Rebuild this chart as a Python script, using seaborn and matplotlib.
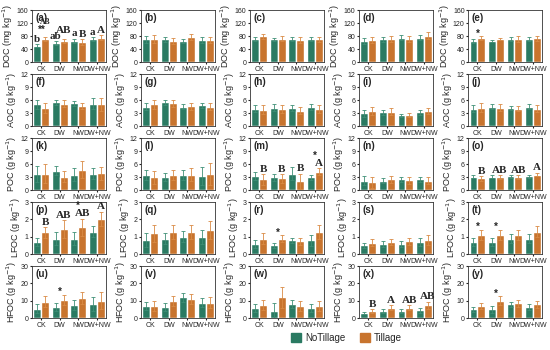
import matplotlib
matplotlib.use("Agg")
import matplotlib.pyplot as plt
import seaborn as sns
import pandas as pd
from matplotlib.patches import Patch

categories = ["CK", "DW", "NW", "DW+NW"]
treatments = ["NoTillage", "Tillage"]
panel_labels = list("abcdefghijklmnopqrstuvwxy")

# one row per soil carbon fraction, one inner list per panel (column)
doc_nt = [[50, 58, 65, 70], [70, 70, 65, 68], [72, 70, 70, 72], [65, 70, 75, 75], [65, 65, 70, 70]]
doc_t = [[72, 65, 62, 75], [72, 65, 78, 68], [80, 72, 68, 70], [68, 72, 72, 82], [73, 70, 71, 73]]
doc_err = [[6, 7, 8, 8], [12, 9, 9, 10], [8, 7, 8, 8], [10, 9, 10, 10], [6, 3, 8, 8]]

aoc_nt = [[5.0, 5.5, 5.3, 5.2], [4.5, 5.5, 4.5, 4.8], [4.0, 4.3, 4.2, 4.5], [3.0, 3.2, 2.5, 3.2], [4.0, 4.5, 4.2, 4.5]]
aoc_t = [[4.2, 5.2, 4.7, 5.1], [5.0, 5.3, 4.6, 4.5], [3.8, 4.0, 3.6, 4.0], [3.5, 3.3, 2.6, 3.5], [4.3, 4.3, 4.0, 4.0]]
aoc_err = [[1.2, 0.8, 0.7, 1.5], [1.0, 0.8, 0.8, 0.8], [1.0, 0.9, 0.9, 0.9], [1.0, 0.8, 0.4, 0.8], [1.0, 0.8, 0.6, 0.8]]

poc_nt = [[3.7, 4.5, 3.6, 3.8], [3.5, 3.0, 3.5, 3.3], [3.3, 3.0, 3.8, 3.0], [2.2, 2.2, 2.5, 2.5], [3.1, 3.1, 3.2, 3.2]]
poc_t = [[3.8, 3.1, 4.7, 3.9], [3.0, 3.5, 3.5, 3.8], [2.5, 2.7, 2.0, 4.3], [1.8, 2.5, 2.3, 2.2], [2.7, 3.0, 3.0, 3.6]]
poc_err = [[2.2, 1.3, 2.0, 1.5], [1.5, 1.2, 1.5, 2.5], [1.2, 1.0, 1.8, 0.7], [1.2, 0.8, 0.8, 0.8], [0.5, 0.4, 0.4, 0.4]]

lfoc_nt = [[0.7, 0.9, 0.9, 1.3], [0.8, 0.9, 1.0, 1.0], [0.6, 0.5, 0.8, 0.8], [0.5, 0.6, 0.6, 0.7], [0.7, 0.7, 0.9, 0.9]]
lfoc_t = [[1.25, 1.45, 1.55, 2.05], [1.2, 1.3, 1.3, 1.4], [0.9, 0.9, 0.75, 1.3], [0.65, 0.7, 0.75, 0.8], [1.1, 1.1, 1.1, 1.3]]
lfoc_err = [[0.3, 0.5, 0.5, 0.4], [0.5, 0.4, 0.4, 0.5], [0.3, 0.2, 0.2, 0.4], [0.2, 0.2, 0.2, 0.3], [0.3, 0.3, 0.3, 0.3]]

hfoc_nt = [[5.5, 6.5, 7.5, 8.0], [7.0, 6.5, 12.0, 9.0], [6.0, 4.0, 8.0, 6.0], [3.0, 4.0, 4.0, 4.5], [5.0, 5.0, 8.0, 6.5]]
hfoc_t = [[9.5, 10.5, 11.5, 10.0], [7.0, 10.0, 11.0, 9.0], [7.5, 12.0, 7.0, 7.0], [4.0, 6.0, 6.0, 7.5], [7.0, 10.0, 8.5, 8.0]]
hfoc_err = [[3.0, 3.0, 3.5, 5.0], [3.0, 3.0, 3.0, 3.0], [3.0, 6.0, 3.0, 3.0], [1.0, 1.5, 1.5, 2.0], [1.5, 2.5, 2.0, 2.0]]

ylabels = ["DOC (mg kg$^{-1}$)", "AOC (g kg$^{-1}$)", "POC (g kg$^{-1}$)",
           "LFOC (g kg$^{-1}$)", "HFOC (g kg$^{-1}$)"]
yticks = [[0, 40, 80, 120, 160], [0, 3, 6, 9, 12], [0, 3, 6, 9, 12], [0, 1, 2, 3], [0, 10, 20, 30]]

# significance letters: panel -> (NoTillage letters, Tillage letters)
letters = {
    "a": (["b", "ab", "a", "a"], ["AB", "AB", "B", "A"]),
    "m": (["", "", "", ""], ["B", "B", "B", "A"]),
    "o": (["", "", "", ""], ["B", "AB", "AB", "A"]),
    "p": (["", "", "", ""], ["B", "AB", "AB", "A"]),
    "x": (["", "", "", ""], ["B", "A", "AB", "AB"]),
}
# stars: panel -> (category, marker text)
stars = {
    "a": [("CK", "**")], "e": [("CK", "*")], "m": [("DW+NW", "*")],
    "p": [("NW", "*")], "r": [("DW", "*")], "t": [("CK", "*"), ("DW", "*")],
    "u": [("DW", "*")], "y": [("DW", "*")],
}

colors = ["#2a7a62", "#c8742e"]
err_colors = ["#3f8f76", "#d98b45"]

rows = [(doc_nt, doc_t, doc_err), (aoc_nt, aoc_t, aoc_err), (poc_nt, poc_t, poc_err),
        (lfoc_nt, lfoc_t, lfoc_err), (hfoc_nt, hfoc_t, hfoc_err)]

sns.set_style("white")
plt.rcParams["font.family"] = ["Liberation Sans", "DejaVu Sans"]

fig, axes = plt.subplots(5, 5, figsize=(5.5, 3.5), dpi=100)
fig.subplots_adjust(left=0.058, right=0.986, top=0.971, bottom=0.091, wspace=0.47, hspace=0.23)

for r, (nt, t, err) in enumerate(rows):
    ymax = yticks[r][-1]
    for c in range(5):
        ax = axes[r, c]
        lab = panel_labels[r * 5 + c]
        df = pd.DataFrame({
            "cat": categories * 2,
            "trt": [treatments[0]] * 4 + [treatments[1]] * 4,
            "val": nt[c] + t[c],
        })
        sns.barplot(data=df, x="cat", y="val", hue="trt", order=categories,
                    hue_order=treatments, palette=colors, width=0.85,
                    errorbar=None, legend=False, ax=ax, saturation=1)
        bar_groups = list(ax.containers)
        tops = {}
        for h, cont in enumerate(bar_groups):
            for i, bar in enumerate(cont):
                xc = bar.get_x() + bar.get_width() / 2
                yv = bar.get_height()
                e = err[c][i] * (1.0 if h == 1 else 0.8)
                ax.errorbar(xc, yv, yerr=e, color=err_colors[h], lw=0.6,
                            capsize=1.2, capthick=0.6)
                tops[(h, i)] = (xc, yv + e)
        if lab in letters:
            for h in range(2):
                for i, s in enumerate(letters[lab][h]):
                    if not s:
                        continue
                    xc, yt = tops[(h, i)]
                    size = 8
                    if lab == "a" and h == 1 and i == 0:
                        # crowded group in (a): small letters above the stars
                        size, yt = 5.5, yt + ymax * 0.2
                    elif lab == "a" and h == 1 and i == 1:
                        yt += ymax * 0.06
                    ax.text(xc, yt + ymax * 0.01, s, ha="center", va="bottom",
                            fontsize=size, fontweight="bold", family="Liberation Serif")
        if lab in stars:
            for cat, s in stars[lab]:
                i = categories.index(cat)
                yt = max(tops[(0, i)][1], tops[(1, i)][1])
                xc = i
                if lab == "a":
                    xc, yt = i + 0.05, yt + ymax * 0.08
                elif lab in letters and letters[lab][1][i]:
                    yt += ymax * 0.2
                ax.text(xc, yt + ymax * 0.05, s, ha="center",
                        va="center", fontsize=7, fontweight="bold")
        ax.set_ylim(0, ymax)
        ax.set_yticks(yticks[r])
        ax.set_xlim(-0.5, 3.5)
        ax.set_xlabel("")
        ax.set_ylabel(ylabels[r], fontsize=6.5, labelpad=1)
        ax.tick_params(axis="both", labelsize=5, length=1.5, pad=1)
        ax.tick_params(axis="y", left=True)
        ax.tick_params(axis="x", bottom=True)
        for sp in ax.spines.values():
            sp.set_linewidth(0.6)
            sp.set_color("#333333")
        ax.text(0.05, 0.95, f"({lab})", transform=ax.transAxes, ha="left", va="top",
                fontsize=7, fontweight="bold")

handles = [Patch(color=colors[0], label=treatments[0]), Patch(color=colors[1], label=treatments[1])]
fig.legend(handles=handles, loc="center", bbox_to_anchor=(0.63, 0.035), ncol=2,
           frameon=False, fontsize=7, handlelength=1.0, handleheight=1.0,
           columnspacing=1.5, handletextpad=0.4)

fig.savefig("out.png", dpi=100)
